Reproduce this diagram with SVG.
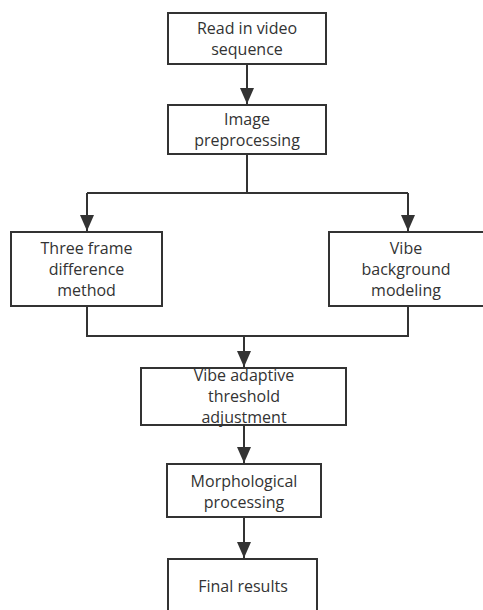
<svg xmlns="http://www.w3.org/2000/svg" width="483" height="610" viewBox="0 0 483 610">
<style>
.box{fill:#fff;stroke:#333;stroke-width:2}
.t{font-family:"Open Sans","Noto Sans",sans-serif;font-size:16px;fill:#333;text-anchor:middle}
.ln{fill:none;stroke:#333;stroke-width:2}
</style>
<defs>
<marker id="ah" markerUnits="userSpaceOnUse" markerWidth="16" markerHeight="16" viewBox="0 0 16 14" refX="16" refY="7" orient="auto">
<path d="M0,0 L16,7 L0,14 Z" fill="#333"/>
</marker>
</defs>
<rect width="483" height="610" fill="#fff"/>
<g id="connectors">
<path class="ln" d="M247,64 V104" marker-end="url(#ah)"/>
<path class="ln" d="M247,154 V193"/>
<path class="ln" d="M87,193 H408"/>
<path class="ln" d="M87,193 V231" marker-end="url(#ah)"/>
<path class="ln" d="M408,193 V231" marker-end="url(#ah)"/>
<path class="ln" d="M87,306 V336 H408 V306"/>
<path class="ln" d="M244,336 V367" marker-end="url(#ah)"/>
<path class="ln" d="M244,425 V463" marker-end="url(#ah)"/>
<path class="ln" d="M244,517 V558" marker-end="url(#ah)"/>
</g>
<g id="n1">
<rect class="box" x="168" y="13" width="158" height="51"/>
<text class="t" x="247" y="34">Read in video</text>
<text class="t" x="247" y="55">sequence</text>
</g>
<g id="n2">
<rect class="box" x="168" y="105" width="158" height="49"/>
<text class="t" x="247" y="125">Image</text>
<text class="t" x="247" y="146">preprocessing</text>
</g>
<g id="n3">
<rect class="box" x="11" y="232" width="151" height="74"/>
<text class="t" x="86.5" y="254">Three frame</text>
<text class="t" x="86.5" y="275">difference</text>
<text class="t" x="86.5" y="296">method</text>
</g>
<g id="n4">
<rect class="box" x="329" y="232" width="162" height="74"/>
<text class="t" x="406" y="254">Vibe</text>
<text class="t" x="406" y="275">background</text>
<text class="t" x="406" y="296">modeling</text>
</g>
<g id="n5">
<rect class="box" x="141" y="368" width="205" height="57"/>
<text class="t" x="244" y="381">Vibe adaptive</text>
<text class="t" x="244" y="402">threshold</text>
<text class="t" x="244" y="423">adjustment</text>
</g>
<g id="n6">
<rect class="box" x="167" y="464" width="154" height="53"/>
<text class="t" x="244" y="487">Morphological</text>
<text class="t" x="244" y="508">processing</text>
</g>
<g id="n7">
<rect class="box" x="168" y="559" width="149" height="60"/>
<text class="t" x="243" y="592">Final results</text>
</g>
</svg>
